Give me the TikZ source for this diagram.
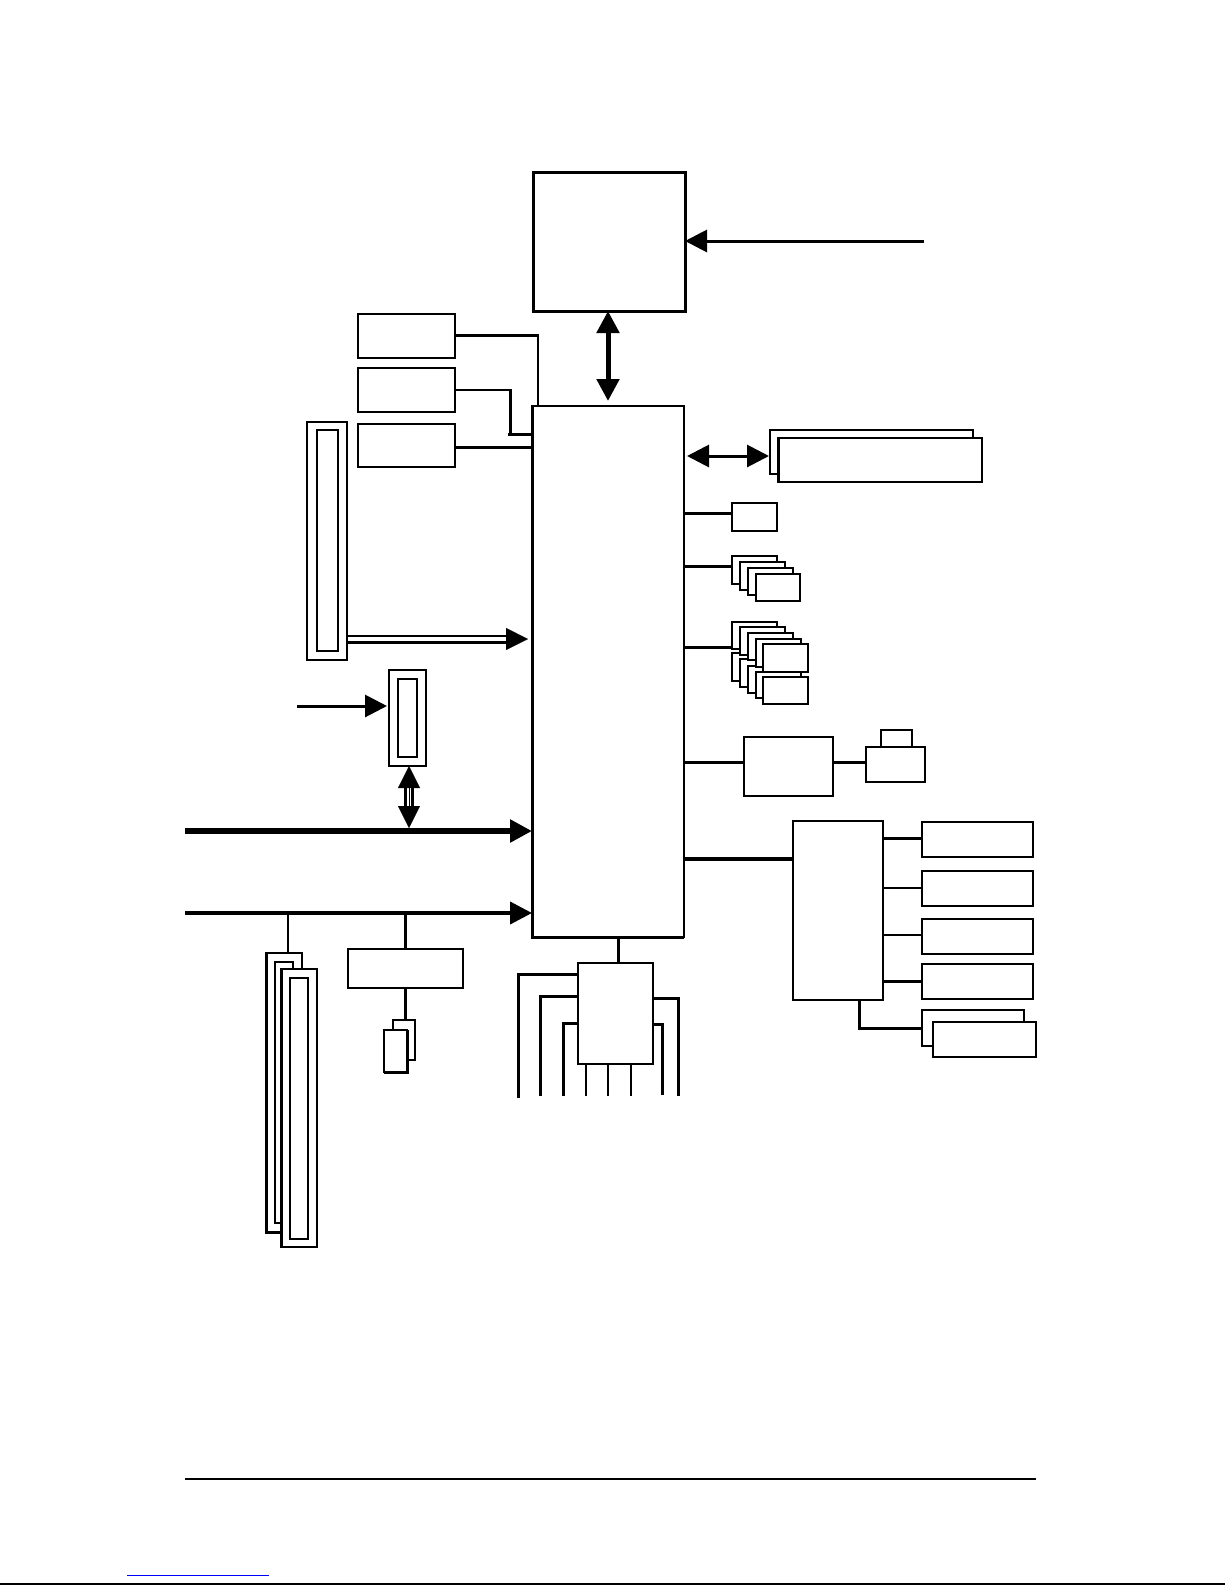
\documentclass[tikz,border=0pt]{standalone}
\usetikzlibrary{arrows.meta}
\tikzset{
  box/.style={draw,fill=white,inner sep=0pt,outer sep=0pt,line width=1.4pt,line join=miter},
  boxh/.style={box,line width=2pt},
  boxx/.style={box,line width=3pt},
  wa/.style={line width=1.5pt},
  wb/.style={line width=2.5pt},
  wc/.style={line width=3pt},
  wm/.style={line width=4pt},
  wd/.style={line width=5pt},
  we/.style={line width=6pt},
  thinhead/.style={line width=.1pt},
  >={Triangle[length=22pt,width=22pt]}
}
\newcommand{\bx}[6][box]{\node[#1,minimum width={(#5-#3)*1pt},minimum height={(#6-#4)*1pt}] (#2) at ({(#3+#5)/2},{(#4+#6)/2}) {};}
\begin{document}
\begin{tikzpicture}[x=1pt,y=-1pt]
\useasboundingbox (0,0) rectangle (1225,1585);
% main blocks
\bx[boxx]{top}{533}{172}{685}{311}
\bx[boxh]{main}{532}{406}{684}{937}
\draw[wc,line join=miter] (main.north west) |- (main.south east);
% top links
\coordinate (clk) at (924,241);
\draw[wc,->] (clk) -- (top.east |- clk);
\draw[wd,<->] (608,0 |- top.south) -- (608,401);
% left small boxes
\bx{ba}{358}{314}{455}{358}
\bx{bb}{358}{368}{455}{412}
\bx{bc}{358}{424}{455}{467}
\draw[wa] (538,334) -- (538,0 |- main.north);
\draw[wb] (bb.east |- 0,390) -- (510,390);
\draw[wc] (510,389) -- (510,435);
\draw[wc] (508,434) -- (main.west |- 0,434);
\draw[wc] (ba.east |- 0,335) -- (539,335);
\draw[wc] (bc.east |- 0,447) -- (main.west |- 0,447);
% tall connector
\bx{ca}{307}{422}{347}{660}
\bx{cb}{317}{430}{338}{651}
\draw[wb] (ca.east |- 0,636) -- (510,636);
\draw[wc] (ca.east |- 0,642) -- (510,642);
\draw[thinhead,->] (506,639) -- (528,639);
% small connector
\bx{da}{389}{670}{426}{766}
\bx{db}{398}{679}{417}{757}
\coordinate (agpin) at (297,706);
\draw[wc,->] (agpin) -- (387,706);
\draw[wc] (405.5,785) -- (405.5,810);
\draw[wc] (412,785) -- (412,810);
\draw[thinhead,<->] (409,0 |- da.south) -- (409,828);
% buses
\coordinate (busa) at (185,831);
\coordinate (busb) at (185,913);
\draw[we,->] (busa) -- (main.west |- busa);
\draw[wm,->] (busb) -- (main.west |- busb);
% lower-left slots
\bx{ea}{266}{953}{302}{1232}
\draw[wc,line join=miter] (ea.north west) |- (ea.south east);
\draw[wb] (288,913) -- (288,0 |- ea.north);
\bx{eb}{275}{962}{293}{1223}
\bx{ec}{281}{969}{317}{1247}
\draw[wc] (ec.north west) -- (ec.south west);
\bx{ed}{290}{978}{308}{1239}
\bx{fa}{348}{949}{463}{988}
\draw[wc] (405,913) -- (405,0 |- fa.north);
\bx{fb}{393}{1020}{415}{1060}
\draw[wc] (405,0 |- fa.south) -- (405,0 |- fb.north);
\bx{fc}{384}{1030}{407}{1072}
\draw[wc,line join=miter] (fc.south west) -| (fc.north east);
% south block
\bx{sb}{578}{963}{653}{1064}
\draw[wc] (618,0 |- main.south) -- (618,0 |- sb.north);
\coordinate (la) at (518,1098);
\coordinate (lb) at (540,1096);
\coordinate (lc) at (563,1096);
\coordinate (ld) at (586,1096);
\coordinate (le) at (608,1096);
\coordinate (lf) at (631,1096);
\coordinate (lg) at (662,1095);
\coordinate (lh) at (678,1096);
\draw[wc] (sb.west |- 0,974) -| (la);
\draw[wc] (sb.west |- 0,996) -| (lb);
\draw[wc] (sb.west |- 0,1023) -| (lc);
\draw[wa] (ld |- sb.south) -- (ld);
\draw[wb] (le |- sb.south) -- (le);
\draw[wb] (lf |- sb.south) -- (lf);
\draw[wc] (sb.east |- 0,1024) -| (lg);
\draw[wc] (sb.east |- 0,998) -| (lh);
% right side: memory slots
\bx{ga}{770}{430}{973}{474}
\bx{gb}{778}{438}{982}{482}
\draw[wc] (gb.north west) -- (gb.south west);
\draw[wc,<->] (687,456) -- (769,456);
\bx{ha}{732}{503}{777}{531}
\draw[wc] (main.east |- 0,513) -- (ha.west |- 0,513);
% stack one
\bx{ia}{732}{556}{777}{584}
\bx{ib}{740}{562}{785}{590}
\bx{ic}{748}{568}{793}{595}
\bx{id}{756}{574}{800}{601}
\draw[wc] (main.east |- 0,566) -- (ia.west |- 0,566);
% stack two
\bx{ja}{732}{622}{777}{649}
\bx{pa}{732}{653}{777}{681}
\bx{jb}{740}{627}{785}{655}
\bx{pb}{740}{659}{785}{687}
\bx{jc}{748}{633}{793}{660}
\bx{pc}{748}{666}{793}{693}
\bx{jd}{756}{639}{801}{667}
\bx{pd}{756}{672}{801}{698}
\bx{je}{763}{644}{808}{672}
\bx{pe}{763}{677}{808}{704}
\draw[wc] (main.east |- 0,647) -- (ja.west |- 0,647);
% video
\bx[boxh]{ka}{744}{737}{833}{796}
\draw[wc] (main.east |- 0,762) -- (ka.west |- 0,762);
\bx[boxh]{kc}{881}{730}{912}{750}
\bx{kb}{866}{747}{925}{782}
\draw[wc] (ka.east |- 0,762) -- (kb.west |- 0,762);
% super i/o
\bx[boxh]{ma}{793}{821}{883}{1000}
\draw[wm] (main.east |- 0,859) -- (ma.west |- 0,859);
\bx{na}{922}{822}{1033}{857}
\bx{nb}{922}{871}{1033}{906}
\bx{nc}{922}{919}{1033}{954}
\bx{nd}{922}{964}{1033}{999}
\draw[wc] (ma.east |- 0,838) -- (na.west |- 0,838);
\draw[wb] (ma.east |- 0,888) -- (nb.west |- 0,888);
\draw[wb] (ma.east |- 0,935) -- (nc.west |- 0,935);
\draw[wc] (ma.east |- 0,981) -- (nd.west |- 0,981);
\bx{ne}{922}{1010}{1024}{1046}
\draw[wc] (859,0 |- ma.south) |- (ne.west |- 0,1028);
\bx{nf}{933}{1022}{1036}{1057}
% footer
\coordinate (ra) at (185,1479);
\coordinate (rb) at (1036,1479);
\draw[wb] (ra) -- (rb);
\coordinate (sa) at (127,1575);
\coordinate (sbb) at (269,1575);
\draw[line width=1pt,blue] (sa) -- (sbb);
\coordinate (ta) at (0,1584);
\coordinate (tb) at (1225,1584);
\draw[wa] (ta) -- (tb);
\end{tikzpicture}
\end{document}
